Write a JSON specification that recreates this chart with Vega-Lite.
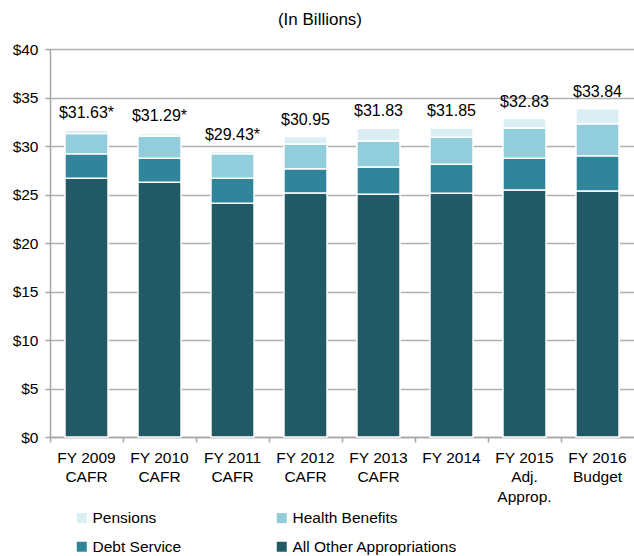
{
  "$schema": "https://vega.github.io/schema/vega-lite/v6.json",
  "width": 584,
  "height": 388,
  "autosize": {"type": "none"},
  "padding": {"left": 50, "top": 49, "right": 0, "bottom": 119},
  "background": "white",
  "title": {
    "text": "(In Billions)",
    "fontSize": 17,
    "fontWeight": "normal",
    "font": "Liberation Sans, Arial, sans-serif",
    "color": "#000000",
    "anchor": "middle",
    "dx": -22,
    "offset": 13
  },
  "config": {
    "view": {"stroke": null},
    "font": "Liberation Sans, Arial, sans-serif",
    "axis": {
      "labelFont": "Liberation Sans, Arial, sans-serif",
      "labelFontSize": 15.5,
      "labelColor": "#000000",
      "domainColor": "#A6A6A6",
      "domainWidth": 1.5,
      "tickColor": "#A6A6A6",
      "tickWidth": 1.5,
      "gridColor": "#B0B0B0",
      "gridWidth": 1.5
    }
  },
  "datasets": {
    "segments": [
      {"year": "FY 2009|CAFR", "category": "All Other Appropriations", "value": 26.67, "order": 1},
      {"year": "FY 2009|CAFR", "category": "Debt Service", "value": 2.53, "order": 2},
      {"year": "FY 2009|CAFR", "category": "Health Benefits", "value": 2.10, "order": 3},
      {"year": "FY 2009|CAFR", "category": "Pensions", "value": 0.33, "order": 4},
      {"year": "FY 2010|CAFR", "category": "All Other Appropriations", "value": 26.26, "order": 1},
      {"year": "FY 2010|CAFR", "category": "Debt Service", "value": 2.47, "order": 2},
      {"year": "FY 2010|CAFR", "category": "Health Benefits", "value": 2.30, "order": 3},
      {"year": "FY 2010|CAFR", "category": "Pensions", "value": 0.26, "order": 4},
      {"year": "FY 2011|CAFR", "category": "All Other Appropriations", "value": 24.10, "order": 1},
      {"year": "FY 2011|CAFR", "category": "Debt Service", "value": 2.57, "order": 2},
      {"year": "FY 2011|CAFR", "category": "Health Benefits", "value": 2.53, "order": 3},
      {"year": "FY 2011|CAFR", "category": "Pensions", "value": 0.23, "order": 4},
      {"year": "FY 2012|CAFR", "category": "All Other Appropriations", "value": 25.15, "order": 1},
      {"year": "FY 2012|CAFR", "category": "Debt Service", "value": 2.50, "order": 2},
      {"year": "FY 2012|CAFR", "category": "Health Benefits", "value": 2.55, "order": 3},
      {"year": "FY 2012|CAFR", "category": "Pensions", "value": 0.75, "order": 4},
      {"year": "FY 2013|CAFR", "category": "All Other Appropriations", "value": 25.02, "order": 1},
      {"year": "FY 2013|CAFR", "category": "Debt Service", "value": 2.82, "order": 2},
      {"year": "FY 2013|CAFR", "category": "Health Benefits", "value": 2.68, "order": 3},
      {"year": "FY 2013|CAFR", "category": "Pensions", "value": 1.31, "order": 4},
      {"year": "FY 2014", "category": "All Other Appropriations", "value": 25.12, "order": 1},
      {"year": "FY 2014", "category": "Debt Service", "value": 2.99, "order": 2},
      {"year": "FY 2014", "category": "Health Benefits", "value": 2.79, "order": 3},
      {"year": "FY 2014", "category": "Pensions", "value": 0.95, "order": 4},
      {"year": "FY 2015|Adj.|Approp.", "category": "All Other Appropriations", "value": 25.46, "order": 1},
      {"year": "FY 2015|Adj.|Approp.", "category": "Debt Service", "value": 3.27, "order": 2},
      {"year": "FY 2015|Adj.|Approp.", "category": "Health Benefits", "value": 3.13, "order": 3},
      {"year": "FY 2015|Adj.|Approp.", "category": "Pensions", "value": 0.97, "order": 4},
      {"year": "FY 2016|Budget", "category": "All Other Appropriations", "value": 25.36, "order": 1},
      {"year": "FY 2016|Budget", "category": "Debt Service", "value": 3.64, "order": 2},
      {"year": "FY 2016|Budget", "category": "Health Benefits", "value": 3.30, "order": 3},
      {"year": "FY 2016|Budget", "category": "Pensions", "value": 1.54, "order": 4}
    ],
    "totals": [
      {"year": "FY 2009|CAFR", "total": 31.63, "label": "$31.63*"},
      {"year": "FY 2010|CAFR", "total": 31.29, "label": "$31.29*"},
      {"year": "FY 2011|CAFR", "total": 29.43, "label": "$29.43*"},
      {"year": "FY 2012|CAFR", "total": 30.95, "label": "$30.95"},
      {"year": "FY 2013|CAFR", "total": 31.83, "label": "$31.83"},
      {"year": "FY 2014", "total": 31.85, "label": "$31.85"},
      {"year": "FY 2015|Adj.|Approp.", "total": 32.83, "label": "$32.83"},
      {"year": "FY 2016|Budget", "total": 33.84, "label": "$33.84"}
    ]
  },
  "layer": [
    {
      "data": {"name": "segments"},
      "mark": {"type": "bar", "width": {"band": 0.59}, "stroke": "white", "strokeWidth": 1.5},
      "encoding": {
        "x": {
          "field": "year",
          "type": "nominal",
          "sort": null,
          "scale": {"paddingInner": 0, "paddingOuter": 0},
          "axis": {
            "title": null,
            "labelAngle": 0,
            "bandPosition": 0,
            "tickSize": 5,
            "labelPadding": 8,
            "labelLineHeight": 19.5,
            "labelBaseline": "top",
            "labelExpr": "split(datum.label, '|')",
            "grid": false
          }
        },
        "y": {
          "field": "value",
          "type": "quantitative",
          "stack": "zero",
          "scale": {"domain": [0, 40], "nice": false},
          "axis": {
            "title": null,
            "values": [0, 5, 10, 15, 20, 25, 30, 35, 40],
            "format": "$.0f",
            "tickSize": 5,
            "labelPadding": 7,
            "grid": true
          }
        },
        "color": {
          "field": "category",
          "type": "nominal",
          "scale": {
            "domain": ["Pensions", "Health Benefits", "Debt Service", "All Other Appropriations"],
            "range": ["#DAEEF3", "#92CDDC", "#31859B", "#215967"]
          },
          "legend": {
            "orient": "none",
            "direction": "horizontal",
            "legendX": 24,
            "legendY": 461,
            "columns": 2,
            "title": null,
            "symbolType": "square",
            "symbolSize": 100,
            "symbolStrokeWidth": 0,
            "labelFont": "Liberation Sans, Arial, sans-serif",
            "labelFontSize": 15.5,
            "labelColor": "#000000",
            "labelOffset": 3,
            "labelLimit": 300,
            "columnPadding": 92,
            "rowPadding": 12,
            "padding": 0
          }
        },
        "order": {"field": "order", "type": "quantitative"}
      }
    },
    {
      "data": {"name": "totals"},
      "mark": {
        "type": "text",
        "dy": -12,
        "baseline": "alphabetic",
        "fontSize": 16,
        "color": "#000000",
        "font": "Liberation Sans, Arial, sans-serif"
      },
      "encoding": {
        "x": {"field": "year", "type": "nominal", "sort": null},
        "y": {"field": "total", "type": "quantitative"},
        "text": {"field": "label"}
      }
    }
  ]
}
